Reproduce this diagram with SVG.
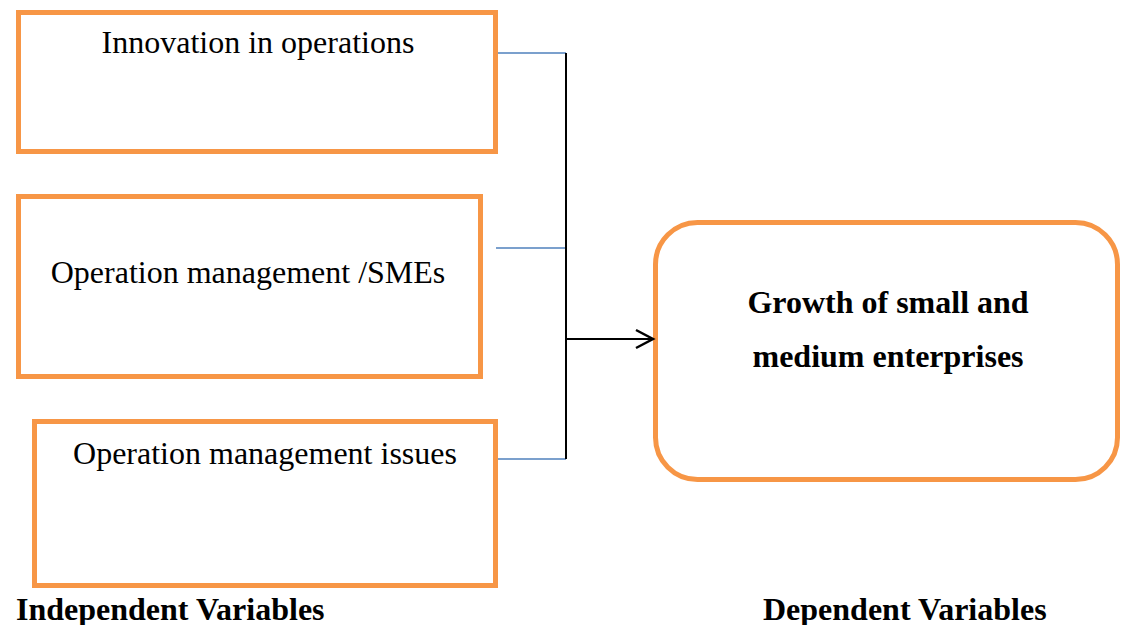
<svg xmlns="http://www.w3.org/2000/svg" width="1121" height="625" viewBox="0 0 1121 625">
<style>
.box{fill:#fff;stroke:#F79646;stroke-width:5}
.t{font-family:"Liberation Serif","Times New Roman",serif;font-size:32px;fill:#000}
.b{font-weight:bold}
.blue{stroke:#4F81BD;stroke-width:1.5;fill:none}
.blk{stroke:#000;stroke-width:2;fill:none}
</style>
<defs>
<marker id="arr" markerWidth="22" markerHeight="22" refX="19" refY="11" orient="auto" markerUnits="userSpaceOnUse">
<path d="M2,2 L19,11 L2,20" fill="none" stroke="#000" stroke-width="2.5"/>
</marker>
</defs>
<rect width="1121" height="625" fill="#fff"/>
<g id="node-innovation">
<rect class="box" x="18.5" y="12.5" width="477" height="139"/>
<text class="t" x="258" y="53" text-anchor="middle">Innovation in operations</text>
</g>
<g id="node-opmgmt">
<rect class="box" x="18.5" y="196.5" width="462" height="180"/>
<text class="t" x="248" y="283" text-anchor="middle">Operation management /SMEs</text>
</g>
<g id="node-issues">
<rect class="box" x="34.5" y="421.5" width="461" height="164"/>
<text class="t" x="265" y="464" text-anchor="middle">Operation management issues</text>
</g>
<g id="node-growth">
<rect class="box" x="655.5" y="222.5" width="462" height="257" rx="42" ry="42"/>
<text class="t b" x="888" y="313" text-anchor="middle">Growth of small and</text>
<text class="t b" x="888" y="367" text-anchor="middle">medium enterprises</text>
</g>
<g id="connectors">
<path class="blue" d="M498,53 H566"/>
<path class="blue" d="M496,248 H566"/>
<path class="blue" d="M498,459 H566"/>
<path class="blk" d="M566,53 V459"/>
<path class="blk" d="M566,339 H653" marker-end="url(#arr)"/>
</g>
<text class="t b" x="16" y="620">Independent Variables</text>
<text class="t b" x="763" y="620">Dependent Variables</text>
</svg>
